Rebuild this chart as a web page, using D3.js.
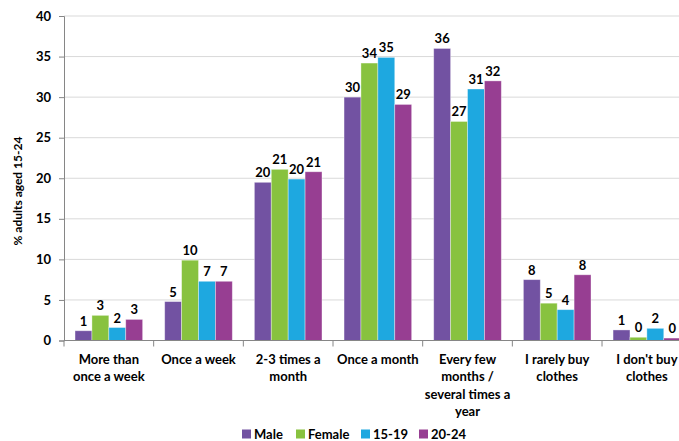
<!DOCTYPE html>
<html>
<head>
<meta charset="utf-8">
<script src="https://cdn.jsdelivr.net/npm/d3@7/dist/d3.min.js"></script>
<style>
  html, body { margin: 0; padding: 0; background: #fff; }
  svg { display: block; font-family: Lato, "Open Sans", "Liberation Sans", sans-serif; }
</style>
</head>
<body>
<svg id="chart" width="679" height="441"></svg>
<script>
// How often young adults buy clothes, by sex and age band (% of adults aged 15-24)
const categories = [
  ["More than", "once a week"],
  ["Once a week"],
  ["2-3 times a", "month"],
  ["Once a month"],
  ["Every few", "months /", "several times a", "year"],
  ["I rarely buy", "clothes"],
  ["I don't buy", "clothes"]
];
const seriesNames = ["Male", "Female", "15-19", "20-24"];
const seriesColors = ["#7252A2", "#88C23F", "#1EA8E0", "#973E92"];
const male   = [1.2, 4.8, 19.5, 30.0, 36.0, 7.5, 1.3];
const female = [3.1, 9.9, 21.1, 34.2, 27.0, 4.6, 0.4];
const age1519 = [1.6, 7.3, 19.9, 34.9, 31.0, 3.8, 1.5];
const age2024 = [2.6, 7.3, 20.8, 29.1, 32.0, 8.1, 0.3];
const yTicks = [0, 5, 10, 15, 20, 25, 30, 35, 40];
const yTitle = "% adults aged 15-24";

const seriesValues = [male, female, age1519, age2024];

const svg = d3.select("#chart");
const plotLeft = 64, plotRight = 691.7, plotTop = 16, plotBottom = 340.5;

const x0 = d3.scaleBand().domain(d3.range(categories.length)).range([plotLeft, plotRight]).padding(0);
const bw = x0.bandwidth();
const x1 = d3.scaleBand().domain(d3.range(seriesNames.length)).range([bw * 0.123, bw * 0.877]).padding(0);
const y = d3.scaleLinear().domain([0, 40]).range([plotBottom, plotTop]);

// gridlines
svg.append("g")
  .selectAll("line")
  .data(yTicks.filter(t => t > 0))
  .join("line")
  .attr("x1", plotLeft).attr("x2", 679)
  .attr("y1", d => y(d)).attr("y2", d => y(d))
  .attr("stroke", "#D9D9D9").attr("stroke-width", 1);

// y axis
const yAxis = svg.append("g")
  .attr("transform", `translate(${plotLeft},0)`)
  .call(d3.axisLeft(y).tickValues(yTicks).tickSize(5).tickPadding(8));
yAxis.select(".domain").attr("stroke", "#868686");
yAxis.selectAll(".tick line").attr("stroke", "#868686");
yAxis.selectAll(".tick text")
  .attr("font-size", 13).attr("font-weight", "bold").attr("fill", "#000")
  .attr("font-family", "Lato, 'Open Sans', sans-serif");

// bars
const groups = svg.append("g")
  .selectAll("g")
  .data(categories.map((c, i) => i))
  .join("g")
  .attr("transform", i => `translate(${x0(i)},0)`);

groups.selectAll("rect")
  .data(i => seriesValues.map((vals, s) => ({ s, v: vals[i] })))
  .join("rect")
  .attr("x", d => x1(d.s))
  .attr("y", d => y(d.v))
  .attr("width", x1.bandwidth())
  .attr("height", d => plotBottom - y(d.v))
  .attr("fill", d => seriesColors[d.s])
  .attr("stroke", "rgba(255,255,255,0.45)")
  .attr("stroke-width", 0.8);

groups.selectAll("text.val")
  .data(i => seriesValues.map((vals, s) => ({ s, v: vals[i] })))
  .join("text")
  .attr("class", "val")
  .attr("x", d => x1(d.s) + x1.bandwidth() / 2)
  .attr("y", d => y(d.v) - 5)
  .attr("text-anchor", "middle")
  .attr("font-size", 13).attr("font-weight", "bold").attr("fill", "#000")
  .text(d => Math.round(d.v));

// x axis
const xAxis = svg.append("g");
xAxis.append("line")
  .attr("x1", plotLeft).attr("x2", 679)
  .attr("y1", plotBottom).attr("y2", plotBottom)
  .attr("stroke", "#868686");
xAxis.selectAll("line.tick")
  .data(d3.range(categories.length + 1))
  .join("line")
  .attr("class", "tick")
  .attr("x1", i => plotLeft + i * bw).attr("x2", i => plotLeft + i * bw)
  .attr("y1", plotBottom).attr("y2", plotBottom + 6)
  .attr("stroke", "#868686");

xAxis.selectAll("text")
  .data(categories)
  .join("text")
  .attr("text-anchor", "middle")
  .attr("font-size", 13).attr("font-weight", "bold").attr("fill", "#000")
  .attr("transform", (d, i) => `translate(${x0(i) + bw / 2},0)`)
  .selectAll("tspan")
  .data(d => d)
  .join("tspan")
  .attr("x", 0)
  .attr("y", (d, j) => 364 + j * 17.3)
  .text(d => d);

// y title
svg.append("text")
  .attr("transform", "translate(22,191) rotate(-90)")
  .attr("text-anchor", "middle")
  .attr("font-size", 12).attr("font-weight", "bold").attr("fill", "#000")
  .text(yTitle);

// legend
const legendX = [242, 296, 361, 419];
const legend = svg.append("g");
seriesNames.forEach((name, s) => {
  legend.append("rect")
    .attr("x", legendX[s]).attr("y", 429.5)
    .attr("width", 9).attr("height", 9)
    .attr("fill", seriesColors[s]);
  legend.append("text")
    .attr("x", legendX[s] + 12).attr("y", 438.5)
    .attr("font-size", 13).attr("font-weight", "bold").attr("fill", "#000")
    .text(name);
});
</script>
</body>
</html>
